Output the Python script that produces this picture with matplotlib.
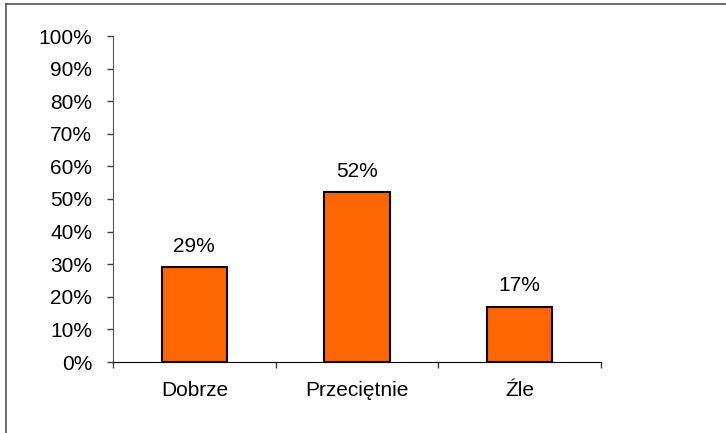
import matplotlib.pyplot as plt
from matplotlib.lines import Line2D

categories = ["Dobrze", "Przeciętnie", "Źle"]
values = [29, 52, 17]
y_ticks = [0, 10, 20, 30, 40, 50, 60, 70, 80, 90, 100]

plt.rcParams['font.family'] = ['Liberation Sans', 'DejaVu Sans']
FS = 15

W, H = 726, 433
fig = plt.figure(figsize=(W / 100, H / 100), dpi=100)

# axes box in pixels: x 113..601, y 36..362
ax = fig.add_axes([113 / W, 1 - 362 / H, (601 - 113) / W, (362 - 36) / H])

x = list(range(len(categories)))
ax.bar(x, values, width=0.4, color="#FF6600", edgecolor="black", linewidth=1.5, zorder=3)

for xi, v in zip(x, values):
    ax.annotate("{}%".format(v), (xi, v), xytext=(0, 8), textcoords="offset points",
                ha="center", va="bottom", fontsize=FS)

ax.set_xlim(-0.5, len(categories) - 0.5)
ax.set_ylim(0, 100)
ax.set_yticks(y_ticks)
ax.set_yticklabels(["{}%".format(t) for t in y_ticks], fontsize=FS)

# category labels centered, tick marks at boundaries
ax.set_xticks(x)
ax.set_xticklabels(categories, fontsize=FS)
ax.tick_params(axis="x", length=0, pad=13.5)
ax.set_xticks([i - 0.5 for i in range(len(categories) + 1)], minor=True)
ax.tick_params(axis="x", which="minor", length=4.5, width=1, color="#404040")
ax.tick_params(axis="y", length=4.5, width=1, color="#404040", pad=10.5)

for s in ["top", "right"]:
    ax.spines[s].set_visible(False)
ax.spines["left"].set_color("#555555")
ax.spines["bottom"].set_color("black")

# outer chart border (only left and top visible)
fig.add_artist(Line2D([6 / W, 6 / W], [0, 1 - 4 / H], transform=fig.transFigure,
                      color="#555555", linewidth=1.2))
fig.add_artist(Line2D([6 / W, 1], [1 - 4 / H, 1 - 4 / H], transform=fig.transFigure,
                      color="#555555", linewidth=1.2))

fig.savefig("out.png", dpi=100)
